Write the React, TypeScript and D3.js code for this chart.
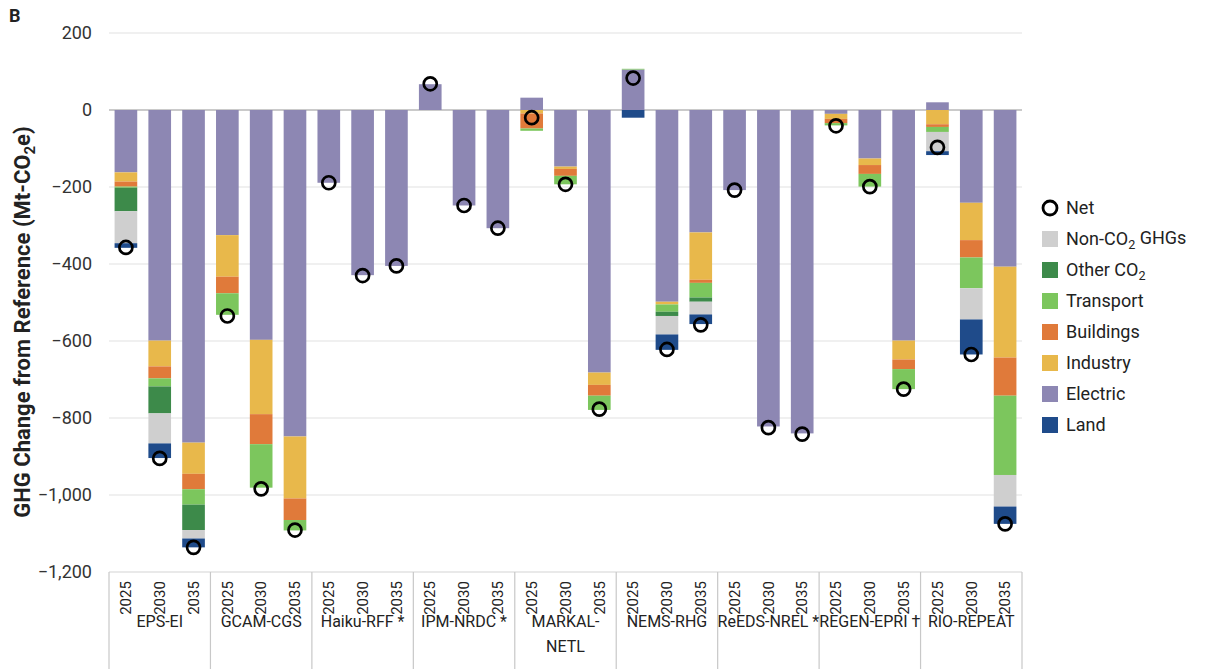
import React from "react";
import * as d3 from "d3";

const models = ["EPS-EI", "GCAM-CGS", "Haiku-RFF *", "IPM-NRDC *", "MARKAL-\nNETL", "NEMS-RHG", "ReEDS-NREL *", "REGEN-EPRI †", "RIO-REPEAT"];
const years = ["2025", "2030", "2035"];
const yTicks = [200, 0, -200, -400, -600, -800, -1000, -1200];

// values per bar, model by model, years 2025 / 2030 / 2035
const electric = [-162, -599, -864, -325, -597, -848, -189, -429, -405, 67, -248, -307, 32, -147, -682, 105, -498, -318, -208, -822, -840, -10, -126, -599, 20, -241, -407];
const industry = [-24, -67, -81, -108, -193, -161, 0, 0, 0, 0, 0, 0, -9, -6, -32, 0, -7, -123, 0, 0, 0, -13, -17, -49, -37, -97, -236];
const buildings = [-13, -31, -40, -43, -78, -56, 0, 0, 0, 0, 0, 0, -39, -18, -28, 0, 0, -8, 0, 0, 0, -11, -23, -25, -7, -45, -99];
const transport = [-3, -21, -40, -56, -113, -27, 0, 0, 0, 0, 0, 0, -6, -22, -37, 2, -19, -38, 0, 0, 0, -6, -33, -52, -13, -80, -206];
const otherCO2 = [-61, -70, -66, 0, 0, 0, 0, 0, 0, 0, 0, 0, 0, 0, 0, 0, -11, -11, 0, 0, 0, 0, 0, 0, 0, 0, 0];
const nonCO2 = [-83, -78, -22, 0, 0, 0, 0, 0, 0, 0, 0, 0, 0, 0, 0, 0, -48, -33, 0, 0, 0, 0, 0, 0, -50, -81, -82];
const land = [-12, -38, -23, 0, 0, 0, 0, 0, 0, 0, 0, 0, 0, 0, 0, -20, -40, -25, 0, 0, 0, 0, 0, 0, -10, -91, -45];
const net = [-357, -905, -1136, -535, -984, -1091, -189, -430, -405, 68, -248, -307, -20, -193, -777, 83, -622, -558, -208, -825, -842, -41, -199, -725, -97, -635, -1075];

const sectors = [
  { key: "Electric", values: electric, color: "#8d87b3" },
  { key: "Industry", values: industry, color: "#e8b84b" },
  { key: "Buildings", values: buildings, color: "#e07a3a" },
  { key: "Transport", values: transport, color: "#7cc65d" },
  { key: "Other CO2", values: otherCO2, color: "#3d8a4a" },
  { key: "Non-CO2 GHGs", values: nonCO2, color: "#cfcfcf" },
  { key: "Land", values: land, color: "#1f4b8a" },
];

// legend order, top to bottom
const legendOrder = ["Non-CO2 GHGs", "Other CO2", "Transport", "Buildings", "Industry", "Electric", "Land"];

const W = 1205;
const H = 669;
const plot = { left: 109, right: 1022, top: 33, bottom: 572 };
const font = "Roboto, 'Noto Sans', sans-serif";

function Sub2Label({ name }: { name: string }) {
  if (name.includes("CO2")) {
    const [a, b] = name.split("CO2");
    return (
      <>
        {a}CO<tspan fontSize="0.7em" dy="0.3em">2</tspan>
        <tspan dy="-0.3em">{b}</tspan>
      </>
    );
  }
  return <>{name}</>;
}

export default function App() {
  const barKeys = models.flatMap((m, mi) => years.map((y, yi) => mi * 3 + yi));

  const x = d3.scaleBand<number>()
    .domain(barKeys)
    .range([plot.left, plot.right])
    .paddingInner(0.33)
    .paddingOuter(0.165);

  const y = d3.scaleLinear().domain([-1200, 200]).range([plot.bottom, plot.top]);

  const rows = barKeys.map(i => {
    const r: Record<string, number> = { idx: i };
    sectors.forEach(s => (r[s.key] = s.values[i]));
    return r;
  });

  const stacked = d3.stack<Record<string, number>>()
    .keys(sectors.map(s => s.key))
    .offset(d3.stackOffsetDiverging)(rows);

  const step = x.step();
  const groupW = step * 3;
  const bw = x.bandwidth();

  return (
    <svg width={W} height={H} style={{ position: "absolute", left: 0, top: 0, background: "#fff" }} fontFamily={font}>
      <text x={9} y={22} fontSize={18} fontWeight="bold" fill="#222">B</text>

      {/* grid */}
      {yTicks.filter(t => t !== -1200).map(t => (
        <line key={t} x1={plot.left} x2={plot.right} y1={y(t)} y2={y(t)}
          stroke={t === 0 ? "#b8b8b8" : "#e2e2e2"} strokeWidth={t === 0 ? 1.3 : 1.2} />
      ))}
      {yTicks.map(t => (
        <text key={"l" + t} x={92} y={y(t)} dy="0.35em" textAnchor="end" fontSize={18} fill="#333">
          {d3.format(",")(t)}
        </text>
      ))}

      <text transform={`translate(30,322) rotate(-90)`} textAnchor="middle"
        fontSize={22} fontWeight="bold" fill="#222">
        GHG Change from Reference (Mt-CO<tspan fontSize="15" dy="5">2</tspan><tspan dy="-5">e)</tspan>
      </text>

      {/* bars */}
      {stacked.map((layer, li) => (
        <g key={layer.key} fill={sectors[li].color}>
          {layer.map((d, i) => {
            const y0 = y(d[0]);
            const y1 = y(d[1]);
            const h = Math.abs(y0 - y1);
            if (h < 0.01) return null;
            return <rect key={i} x={x(i)} y={Math.min(y0, y1)} width={bw} height={h} />;
          })}
        </g>
      ))}

      {/* net markers */}
      {net.map((v, i) => (
        <circle key={i} cx={(x(i) as number) + bw / 2} cy={y(v)} r={6.5} fill="none" stroke="#000" strokeWidth={2.7} />
      ))}

      {/* category axis */}
      <line x1={plot.left} x2={plot.right} y1={plot.bottom} y2={plot.bottom} stroke="#d4d4d4" strokeWidth={1.2} />
      {d3.range(models.length + 1).map(g => (
        <line key={g} x1={plot.left + g * groupW} x2={plot.left + g * groupW} y1={plot.bottom} y2={H}
          stroke="#c8c8c8" strokeWidth={1.2} />
      ))}
      {barKeys.map(i => (
        <text key={"y" + i} transform={`translate(${(x(i) as number) + bw / 2},598) rotate(-90)`}
          textAnchor="middle" dy="0.35em" fontSize={15} fill="#222">
          {years[i % 3]}
        </text>
      ))}
      {models.map((m, g) => (
        <text key={m} x={plot.left + g * groupW + groupW / 2} y={627} textAnchor="middle" fontSize={16} fill="#222">
          {m.split("\n").map((line, li) => (
            <tspan key={li} x={plot.left + g * groupW + groupW / 2} dy={li === 0 ? 0 : 25}>{line}</tspan>
          ))}
        </text>
      ))}

      {/* legend */}
      <g transform="translate(1042,208)">
        <circle cx={8} cy={0} r={7} fill="none" stroke="#000" strokeWidth={2.8} />
        <text x={24} y={0} dy="0.35em" fontSize={18} fill="#222">Net</text>
        {legendOrder.map((k, i) => {
          const s = sectors.find(q => q.key === k)!;
          const cy = 31 * (i + 1);
          return (
            <g key={k}>
              <rect x={0} y={cy - 8} width={16} height={16} fill={s.color} />
              <text x={24} y={cy} dy="0.35em" fontSize={18} fill="#222"><Sub2Label name={k} /></text>
            </g>
          );
        })}
      </g>
    </svg>
  );
}
